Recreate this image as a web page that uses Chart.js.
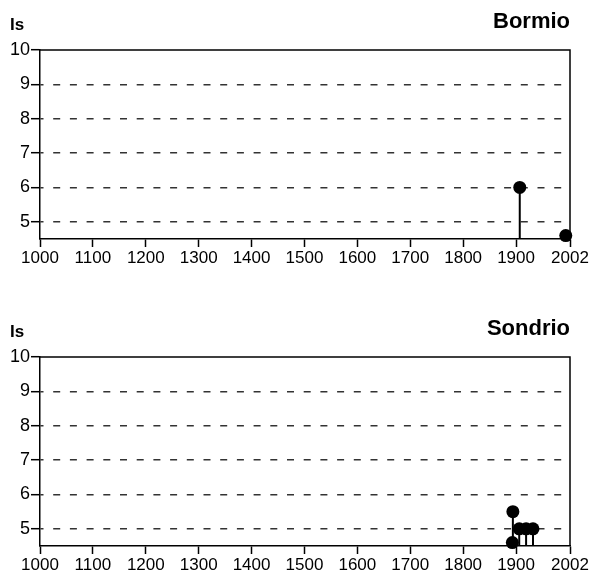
<!DOCTYPE html>
<html>
<head>
<meta charset="utf-8">
<script src="https://cdn.jsdelivr.net/npm/chart.js@4"></script>
<style>
  body { margin: 0; background: #fff; overflow: hidden; }
  canvas { display: block; }
  #gap { height: 37px; }
</style>
</head>
<body>
<canvas id="chartBormio" width="590" height="270"></canvas>
<div id="gap"></div>
<canvas id="chartSondrio" width="590" height="270"></canvas>
<script>
// Datos
const bormioYears = [1907, 1994];
const bormioIs = [6, 4.6];

const sondrioYears = [1893, 1894, 1906, 1919, 1932];
const sondrioIs = [4.6, 5.5, 5, 5, 5];

const xTicks = [1000, 1100, 1200, 1300, 1400, 1500, 1600, 1700, 1800, 1900, 2002];
const yTicks = [5, 6, 7, 8, 9, 10];
const yMin = 4.5;
const yMax = 10;

const FONT = '"Liberation Sans", Arial, sans-serif';

// marco superior/derecho + textos
const framePlugin = {
  id: "frame",
  beforeDatasetsDraw(chart, args, opts) {
    const { ctx, chartArea: a } = chart;
    ctx.save();
    ctx.strokeStyle = "#000";
    ctx.lineWidth = 1.5;
    ctx.beginPath();
    ctx.moveTo(a.left, a.top);
    ctx.lineTo(a.right, a.top);
    ctx.lineTo(a.right, a.bottom);
    ctx.stroke();

    ctx.fillStyle = "#000";
    ctx.font = "bold 17px " + FONT;
    ctx.textAlign = "left";
    ctx.fillText("Is", 10, 30);
    ctx.font = "bold 22px " + FONT;
    ctx.textAlign = "right";
    ctx.fillText(opts.title, a.right, 28);
    ctx.restore();
  }
};

function stemDatasets(years, values) {
  return years.map((yr, i) => ({
    data: [{ x: yr, y: yMin }, { x: yr, y: values[i] }],
    borderColor: "#000",
    borderWidth: 2,
    pointRadius: [0, 6.5],
    pointBackgroundColor: "#000",
    pointBorderWidth: 0,
    clip: false
  }));
}

function makeChart(id, title, years, values) {
  const ctx = document.getElementById(id).getContext("2d");
  return new Chart(ctx, {
    type: "line",
    data: { datasets: stemDatasets(years, values) },
    options: {
      responsive: false,
      animation: false,
      events: [],
      layout: { padding: { top: 50, right: 20, left: 0, bottom: 0 } },
      plugins: {
        legend: { display: false },
        tooltip: { enabled: false },
        frame: { title: title }
      },
      scales: {
        x: {
          type: "linear",
          min: 1000,
          max: 2002,
          afterBuildTicks: s => { s.ticks = xTicks.map(v => ({ value: v })); },
          afterFit: s => { s.height = 31; },
          grid: { drawOnChartArea: false, tickLength: 8, tickColor: "#000", tickWidth: 1.5 },
          border: { color: "#000", width: 1.5 },
          ticks: {
            color: "#000",
            font: { family: FONT, size: 17 },
            padding: 1,
            maxRotation: 0,
            autoSkip: false,
            callback: v => String(v)
          }
        },
        y: {
          min: yMin,
          max: yMax,
          afterBuildTicks: s => { s.ticks = yTicks.map(v => ({ value: v })); },
          afterFit: s => { s.width = 40; },
          grid: {
            color: c => (c.tick && c.tick.value === 10 ? "rgba(0,0,0,0)" : "#333"),
            lineWidth: 1.4,
            tickLength: 9,
            tickColor: "#000",
            tickWidth: 1.5
          },
          border: { color: "#000", width: 1.5, dash: [7, 9.7], dashOffset: 4 },
          ticks: {
            color: "#000",
            font: { family: FONT, size: 18 },
            padding: 1,
            callback: v => String(v)
          }
        }
      }
    },
    plugins: [framePlugin]
  });
}

makeChart("chartBormio", "Bormio", bormioYears, bormioIs);
makeChart("chartSondrio", "Sondrio", sondrioYears, sondrioIs);
</script>
</body>
</html>
